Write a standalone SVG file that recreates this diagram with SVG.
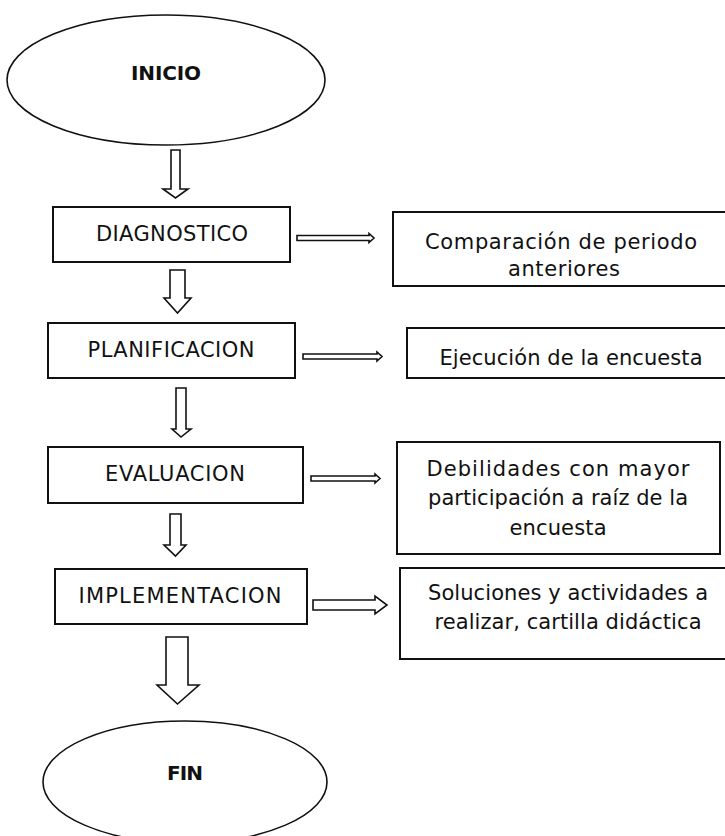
<svg xmlns="http://www.w3.org/2000/svg" width="725" height="836" viewBox="0 0 725 836">
<style>
.sh{fill:#fff;stroke:#111;stroke-width:2}
.el{fill:#fff;stroke:#111;stroke-width:1.6}
.ar{fill:#fff;stroke:#111;stroke-width:1.6;stroke-linejoin:miter}
.t{font-family:"DejaVu Sans","Liberation Sans",sans-serif;fill:#111;text-anchor:middle}
.l{font-size:21px}
.r{font-size:21px}
.b{font-size:20px;font-weight:bold}
</style>
<rect width="725" height="836" fill="#fff"/>
<g id="inicio">
<ellipse class="el" cx="166" cy="80" rx="159" ry="65"/>
<text class="t b" x="166" y="80" textLength="70">INICIO</text>
</g>
<g id="diagnostico">
<rect class="sh" x="53" y="207" width="237" height="55"/>
<text class="t l" x="172" y="241" textLength="152">DIAGNOSTICO</text>
</g>
<g id="comparacion">
<rect class="sh" x="393" y="212" width="340" height="74"/>
<text class="t r" x="561" y="249" textLength="272">Comparación de periodo</text>
<text class="t r" x="564" y="276" textLength="112">anteriores</text>
</g>
<g id="planificacion">
<rect class="sh" x="48" y="323" width="247" height="55"/>
<text class="t l" x="171" y="357" textLength="167">PLANIFICACION</text>
</g>
<g id="ejecucion">
<rect class="sh" x="407" y="328" width="326" height="50"/>
<text class="t r" x="571" y="365" textLength="263">Ejecución de la encuesta</text>
</g>
<g id="evaluacion">
<rect class="sh" x="48" y="447" width="255" height="56"/>
<text class="t l" x="175" y="481" textLength="140">EVALUACION</text>
</g>
<g id="debilidades">
<rect class="sh" x="397" y="442" width="323" height="112"/>
<text class="t r" x="558" y="476" textLength="263">Debilidades con mayor</text>
<text class="t r" x="558" y="505" textLength="260">participación a raíz de la</text>
<text class="t r" x="558" y="535" textLength="97">encuesta</text>
</g>
<g id="implementacion">
<rect class="sh" x="55" y="569" width="252" height="55"/>
<text class="t l" x="180" y="603" textLength="203">IMPLEMENTACION</text>
</g>
<g id="soluciones">
<rect class="sh" x="400" y="568" width="333" height="91"/>
<text class="t r" x="568" y="600" textLength="280">Soluciones y actividades a</text>
<text class="t r" x="568" y="629" textLength="267">realizar, cartilla didáctica</text>
</g>
<g id="fin">
<ellipse class="el" cx="185" cy="782" rx="142" ry="61"/>
<text class="t b" x="185" y="780" textLength="36">FIN</text>
</g>
<g id="connectors">
<polygon class="ar" points="171,150 180,150 180,189 188,189 175.5,198 163,189 171,189"/>
<polygon class="ar" points="170,270 185,270 185,298 191,298 177.5,313 164,298 170,298"/>
<polygon class="ar" points="176,388 186,388 186,429 191,429 181,437 172,429 176,429"/>
<polygon class="ar" points="170,514 181,514 181,545 186,545 175.5,556 164,545 170,545"/>
<polygon class="ar" points="166,637 188,637 188,685 199,685 177.5,704 157,685 166,685"/>
<polygon class="ar" points="297,235.5 369,235.5 369,233.5 374,238 369,242.5 369,240.5 297,240.5"/>
<polygon class="ar" points="303,354 377,354 377,352 382,356.5 377,361 377,359 303,359"/>
<polygon class="ar" points="311,476 375,476 375,474 380,478.5 375,483 375,481 311,481"/>
<polygon class="ar" points="313,600 375,600 375,596 387,605 375,614 375,610 313,610"/>
</g>
</svg>
